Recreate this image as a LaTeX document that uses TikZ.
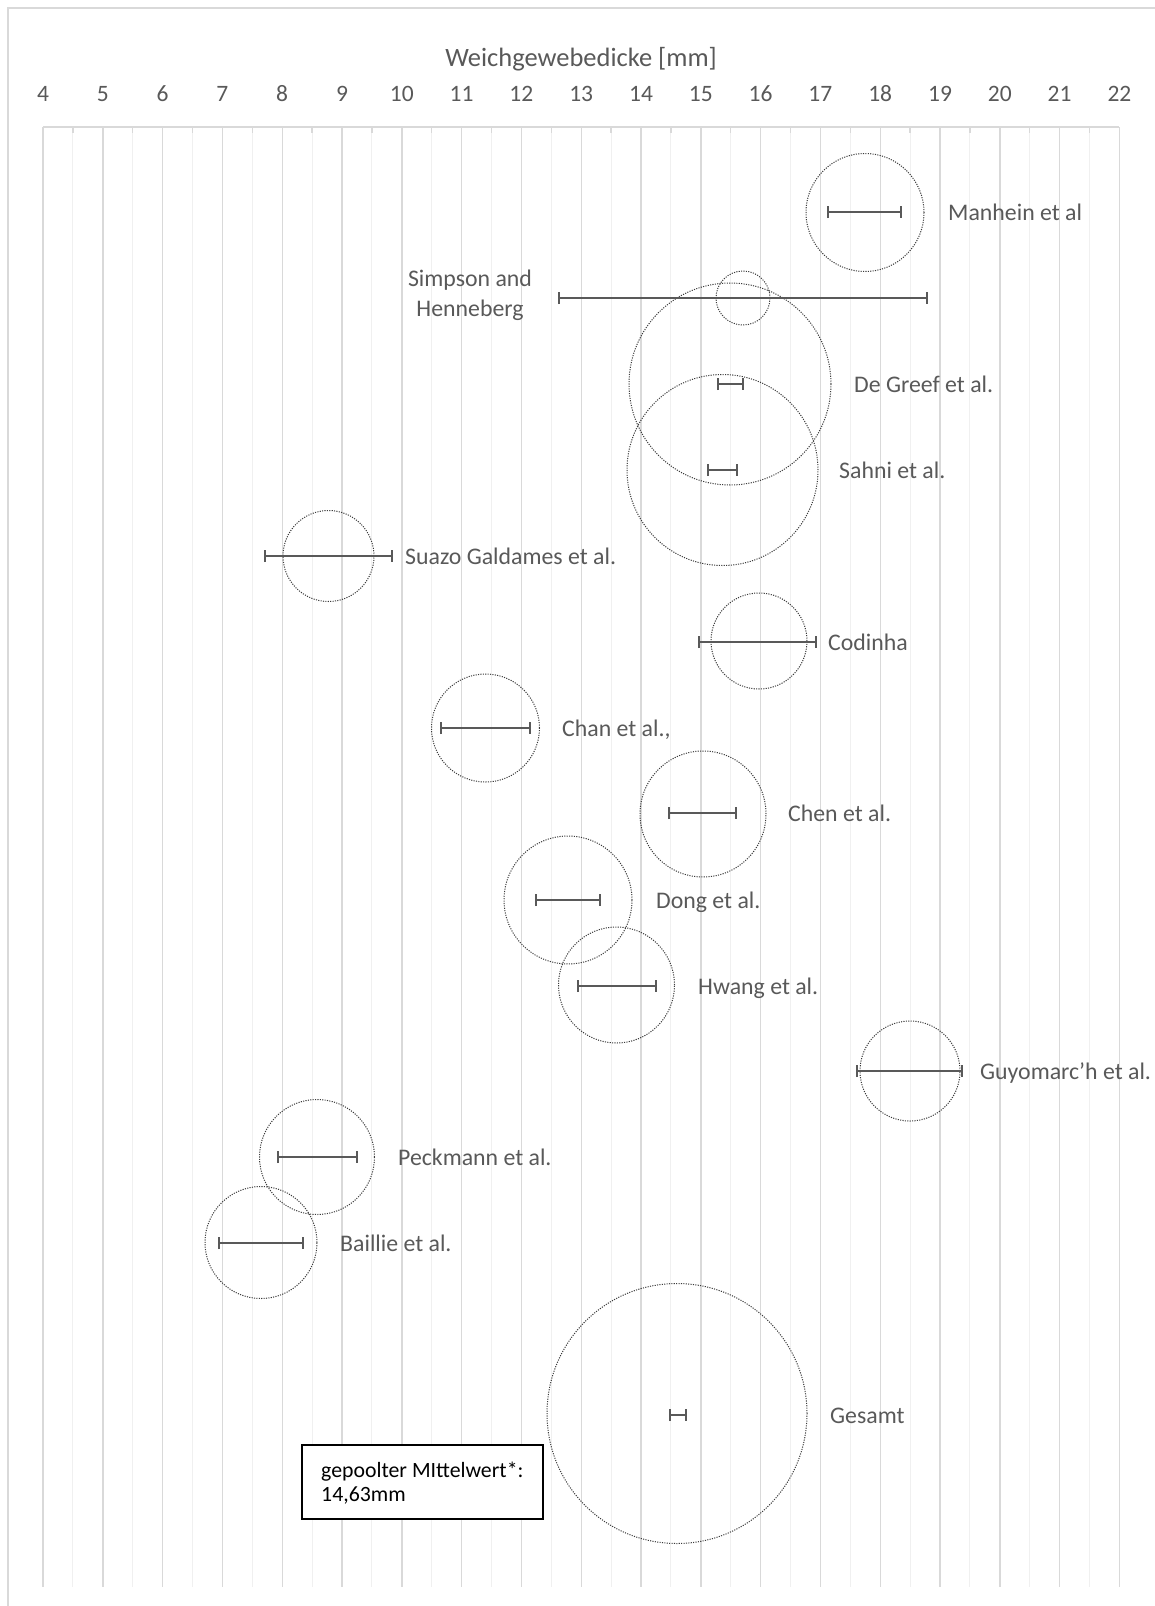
\documentclass[tikz,border=0pt]{standalone}
\usepackage{fontspec}
\setmainfont{Carlito}
\usetikzlibrary{arrows.meta}
\definecolor{axisgray}{HTML}{D9D9D9}
\definecolor{minorgray}{HTML}{F0F0F0}
\definecolor{textgray}{HTML}{595959}
\definecolor{bargray}{HTML}{595959}
\definecolor{dotgray}{HTML}{3A3A3A}

\begin{document}
\begin{tikzpicture}[x=1pt,y=-1pt,
  frame/.style={draw=axisgray, line width=1.3pt},
  majorgrid/.style={draw=axisgray, line width=1.4pt},
  minorgrid/.style={draw=minorgray, line width=1.1pt},
  ticklabel/.style={text=textgray, font=\fontsize{23.5}{28}\selectfont, anchor=base, inner sep=0pt},
  bubble/.style={circle, draw=dotgray, line width=1pt, dash pattern=on 1.1pt off 1.3pt, inner sep=0pt},
  errbar/.style={draw=bargray, line width=2.7pt, {Bar[width=12pt,line width=2.3pt]}-{Bar[width=12pt,line width=2.3pt]}},
  study/.style={text=textgray, font=\fontsize{23.8}{29.5}\selectfont, inner sep=0pt, anchor=base west},
  legendbox/.style={draw=black, line width=1.3pt, fill=white, minimum width=241pt, minimum height=74pt, inner sep=0pt},
  legendtext/.style={text=black, font=\fontsize{21.8}{24}\selectfont, inner sep=0pt, anchor=base west, align=left},
]
\useasboundingbox (0,0) rectangle (1155,1606);
\fill[white] (0,0) rectangle (1155,1606);

% chart frame (top and left edges)
\draw[frame] (8,1606) -- (8,8) -- (1155,8);

% grid: half-millimetre lines, then millimetre lines
\foreach \v in {4.5,5.5,...,21.5} {
  \draw[minorgrid] ({43+(\v-4)*59.8},127) -- ({43+(\v-4)*59.8},1587);
  \draw[majorgrid] ({43+(\v-4)*59.8},127) -- ({43+(\v-4)*59.8},133);
}
\foreach \v in {4,...,22} {
  \draw[majorgrid] ({43+(\v-4)*59.8},127) -- ({43+(\v-4)*59.8},1587);
  \node[ticklabel] (t\v) at ({43+(\v-4)*59.8},101.5) {\v};
}
\draw[majorgrid] (43,127) -- (1119.4,127);

% axis title
\node[ticklabel, font=\fontsize{26.5}{30}\selectfont] (title) at (581,66) {Weichgewebedicke [mm]};

% studies: bar from/to, row y, bubble centre x/y, radius, label x, label
\foreach \id/\xa/\xb/\yy/\cx/\cy/\r/\lx/\lab in {
  man/827/902/212/865/212.5/59/948/{Manhein et al},
  gre/717/744/384/730/384/101/854/{De Greef et al.},
  sah/707/738/470/722.5/470/95.5/839/{Sahni et al.},
  sua/264/393/556/328.5/556/45.5/405/{Suazo Galdames et al.},
  cod/698/817/642/759/641/48/828/{Codinha},
  cha/440/531/728/485.5/728/54/562/{Chan et al.,},
  che/668/737/813/703/814/63/788/{Chen et al.},
  don/535/601/900/568/900/64/656/{Dong et al.},
  hwa/577/657/986/616.5/985/58/698/{Hwang et al.},
  guy/856/963/1071/910/1071/50/980/{Guyomarc’h et al.},
  pec/277/358/1157/317/1157/57.5/398/{Peckmann et al.},
  bai/218/304/1243/261/1242.5/56/340/{Baillie et al.},
  ges/669/687/1415/677/1413.5/130/830/{Gesamt}} {
  \node[bubble, minimum size={2*\r*1pt}] (b\id) at (\cx,\cy) {};
  \coordinate (l\id) at (\xa,\yy);
  \coordinate (r\id) at (\xb,\yy);
  \draw[errbar] (l\id) -- (r\id);
  \node[study] (n\id) at (\lx,\yy+8.5) {\lab};
}

% Simpson and Henneberg (two-line label; base is the last line)
\node[bubble, minimum size=54pt] (bsim) at (743,298) {};
\coordinate (lsim) at (558,298);
\coordinate (rsim) at (928,298);
\draw[errbar] (lsim) -- (rsim);
\node[study, anchor=base, align=center] (nsim) at (470,316) {Simpson and\\Henneberg};

% pooled mean box
\node[legendbox] (legend) at (422.5,1482) {};
\node[legendtext] (legendlabel) at (321,1501) {gepoolter MIttelwert*:\\14,63mm};
\end{tikzpicture}
\end{document}
